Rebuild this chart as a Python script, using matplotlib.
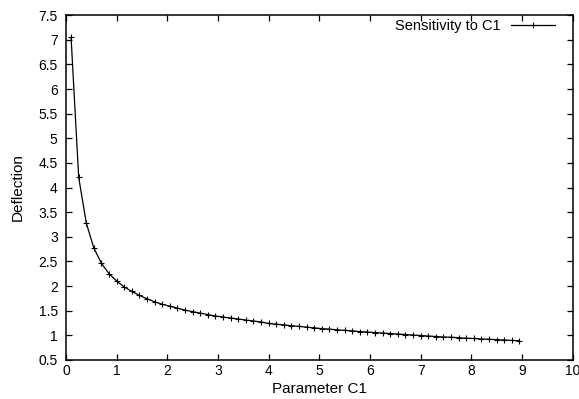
import matplotlib
matplotlib.use("Agg")
import matplotlib.pyplot as plt

# values
param_c1 = [0.10, 0.25, 0.40, 0.55, 0.70, 0.85, 1.00, 1.15, 1.30, 1.45,
            1.60, 1.75, 1.90, 2.05, 2.20, 2.35, 2.50, 2.65, 2.80, 2.95,
            3.10, 3.25, 3.40, 3.55, 3.70, 3.85, 4.00, 4.15, 4.30, 4.45,
            4.60, 4.75, 4.90, 5.05, 5.20, 5.35, 5.50, 5.65, 5.80, 5.95,
            6.10, 6.25, 6.40, 6.55, 6.70, 6.85, 7.00, 7.15, 7.30, 7.45,
            7.60, 7.75, 7.90, 8.05, 8.20, 8.35, 8.50, 8.65, 8.80, 8.95]
deflection = [7.05, 4.21, 3.28, 2.77, 2.46, 2.25, 2.10, 1.98, 1.89, 1.81,
              1.74, 1.68, 1.63, 1.59, 1.55, 1.51, 1.48, 1.45, 1.42, 1.39,
              1.37, 1.35, 1.33, 1.31, 1.29, 1.27, 1.24, 1.225, 1.21, 1.195,
              1.18, 1.165, 1.15, 1.135, 1.125, 1.11, 1.10, 1.09, 1.075, 1.065,
              1.055, 1.045, 1.035, 1.025, 1.015, 1.005, 0.995, 0.985, 0.975, 0.965,
              0.96, 0.95, 0.94, 0.935, 0.925, 0.92, 0.91, 0.905, 0.895, 0.89]

x_ticks = [0, 1, 2, 3, 4, 5, 6, 7, 8, 9, 10]
y_ticks = [0.5, 1, 1.5, 2, 2.5, 3, 3.5, 4, 4.5, 5, 5.5, 6, 6.5, 7, 7.5]

plt.rcParams["font.family"] = ["Liberation Sans", "DejaVu Sans"]

fig = plt.figure(figsize=(5.79, 3.99), dpi=100)
ax = fig.add_axes([0.114, 0.098, 0.875, 0.864])

ax.plot(param_c1, deflection, color="black", lw=0.9, marker="+",
        markersize=5, markeredgewidth=0.8, label="Sensitivity to C1")

ax.set_xlim(0, 10)
ax.set_ylim(0.5, 7.5)
ax.set_xticks(x_ticks)
ax.set_xticklabels([f"{t:g}" for t in x_ticks])
ax.set_yticks(y_ticks)
ax.set_yticklabels([f"{t:g}" for t in y_ticks])
ax.tick_params(direction="in", top=True, right=True, length=4, width=0.9,
               labelsize=10)
ax.tick_params(axis="y", pad=6)
ax.tick_params(axis="x", pad=3)
for s in ax.spines.values():
    s.set_linewidth(1.1)

ax.set_xlabel("Parameter C1", fontsize=11, labelpad=3)
ax.set_ylabel("Deflection", fontsize=11, labelpad=10)
ax.legend(loc="upper right", bbox_to_anchor=(0.965, 0.99), frameon=False,
          markerfirst=False, fontsize=10.5, handlelength=3.0,
          handletextpad=0.7, borderaxespad=0, borderpad=0)

fig.savefig("out.png", dpi=100)
